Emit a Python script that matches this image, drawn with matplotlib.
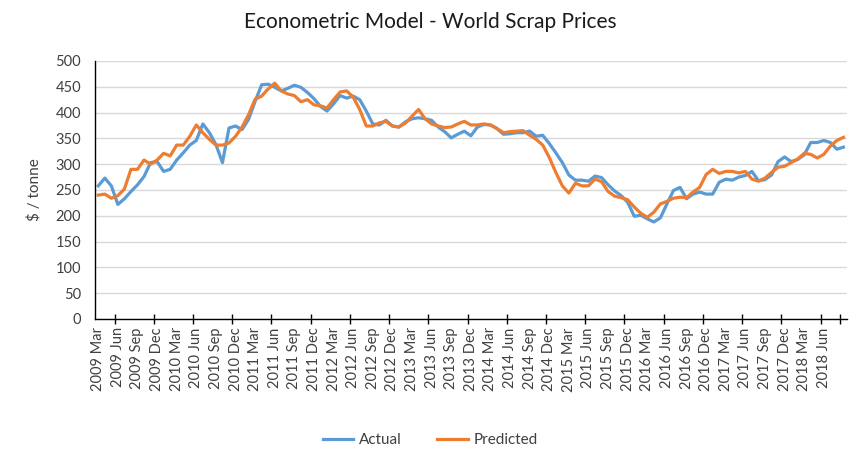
import numpy as np
import pandas as pd
import matplotlib
matplotlib.use("Agg")
import matplotlib.pyplot as plt

plt.rcParams['font.family'] = ['Lato', 'DejaVu Sans']

# Mois (catégories) : mars 2009 -> septembre 2018
months = pd.date_range("2009-03-01", periods=115, freq="MS")
month_labels = [d.strftime("%Y %b") for d in months]

# Prix observés ($ / tonne)
actual = [258, 273, 258, 222, 233, 247, 260, 276, 303, 305,
          286, 290, 308, 322, 337, 346, 378, 361, 338, 303,
          370, 374, 367, 387, 422, 454, 455, 449, 442, 447,
          453, 449, 439, 427, 412, 403, 417, 433, 428, 432,
          425, 403, 378, 376, 385, 374, 372, 382, 388, 390,
          388, 385, 372, 363, 351, 358, 364, 355, 372, 377,
          376, 369, 358, 359, 361, 361, 364, 354, 356, 340,
          322, 303, 279, 269, 269, 267, 277, 274, 260, 248,
          239, 226, 199, 201, 194, 188, 196, 223, 249, 255,
          233, 242, 246, 242, 242, 265, 271, 269, 275, 278,
          286, 268, 270, 279, 305, 314, 305, 309, 318, 342,
          342, 346, 342, 329, 333]

# Prix prédits par le modèle
predicted = [240, 242, 234, 239, 252, 290, 290, 308, 300, 308,
             321, 316, 337, 337, 354, 376, 361, 348, 337, 337,
             341, 354, 372, 396, 426, 432, 446, 457, 442, 436,
             433, 421, 425, 415, 413, 409, 425, 440, 442, 430,
             406, 374, 374, 380, 383, 374, 372, 380, 393, 406,
             388, 378, 374, 371, 372, 378, 383, 376, 376, 378,
             376, 369, 361, 363, 364, 365, 356, 348, 337, 313,
             284, 258, 244, 263, 258, 258, 271, 266, 247, 238,
             235, 231, 217, 205, 197, 207, 223, 228, 234, 236,
             235, 246, 255, 280, 290, 282, 286, 286, 283, 286,
             271, 267, 273, 284, 294, 296, 303, 310, 321, 319,
             312, 319, 335, 346, 352]

x = np.arange(len(months))

fig = plt.figure(figsize=(8.66, 4.67), dpi=100)
ax = fig.add_axes([0.1097, 0.317, 0.868, 0.5524])

ax.plot(x, actual, color='#5B9BD5', lw=2.3, label='Actual', solid_joinstyle='round')
ax.plot(x, predicted, color='#ED7D31', lw=2.3, label='Predicted', solid_joinstyle='round')

# Axes
ax.set_xlim(-0.5, len(months) - 0.5)
ax.set_ylim(0, 500)
ax.set_yticks(np.arange(0, 501, 50))
ax.grid(axis='y', color='#d9d9d9', lw=1)
ax.set_axisbelow(True)
for s in ['top', 'right']:
    ax.spines[s].set_visible(False)
for s in ['left', 'bottom']:
    ax.spines[s].set_color('#000000')
    ax.spines[s].set_linewidth(1)

# Étiquettes tous les 3 mois (jusqu'à 2018 Jun), graduations tous les 6 mois
lab_idx = x[:112:3]
ax.set_xticks(lab_idx)
ax.set_xticklabels([month_labels[i] for i in lab_idx], rotation=90, fontsize=10.5,
                   color='#404040')
minor = list(np.arange(2.5, len(months) - 1, 6)) + [len(months) - 1.5]
ax.set_xticks(minor, minor=True)
ax.tick_params(axis='x', which='major', length=0, pad=6)
ax.tick_params(axis='x', which='minor', length=7, direction='inout', width=1)
ax.tick_params(axis='y', length=0, labelsize=10.5, labelcolor='#404040', pad=10)

ax.set_ylabel('$ / tonne', fontsize=11, color='#404040', labelpad=10)
fig.suptitle('Econometric Model - World Scrap Prices', fontsize=15, x=0.497, y=0.975,
             color='#1a1a1a')

fig.legend(loc='center', bbox_to_anchor=(0.497, 0.058), ncol=2, frameon=False,
           fontsize=11, handlelength=2.0, handletextpad=0.4, columnspacing=2.3,
           labelcolor='#404040')

fig.savefig('out.png', dpi=100)
